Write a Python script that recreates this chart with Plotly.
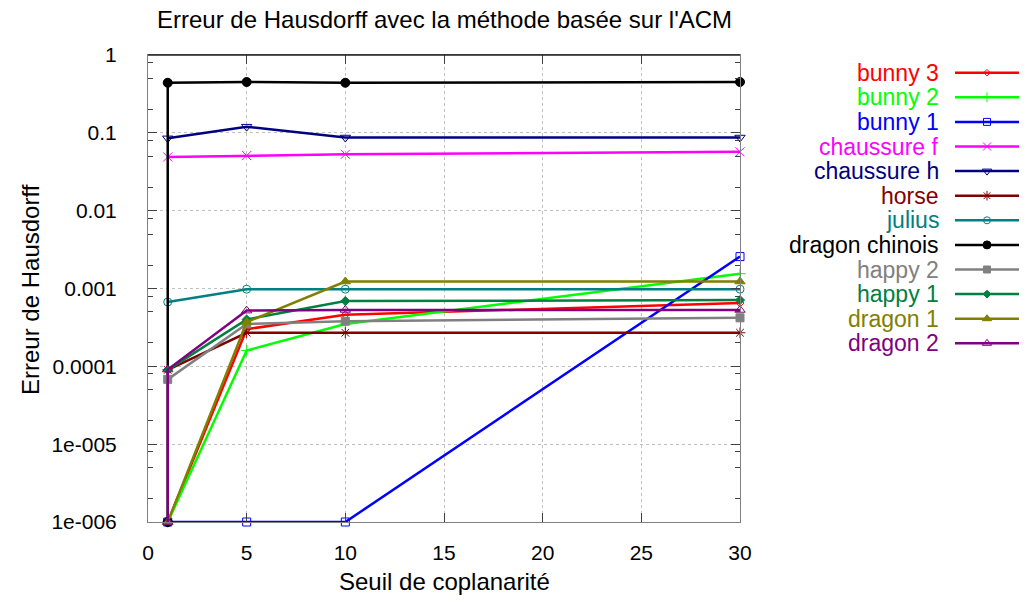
import plotly.graph_objects as go

# ---------------- data ----------------
names = ["bunny 3", "bunny 2", "bunny 1", "chaussure f", "chaussure h", "horse",
         "julius", "dragon chinois", "happy 2", "happy 1", "dragon 1", "dragon 2"]
colors = ["#FF0000", "#00FF00", "#0000FF", "#FF00FF", "#000080", "#800000",
          "#008080", "#000000", "#808080", "#008040", "#808000", "#800080"]
symbols = ["diamond-open", "cross-thin-open", "square-open", "x-thin-open", "triangle-down-open",
           "asterisk-open", "circle-open", "circle", "square", "diamond", "triangle-up", "triangle-up-open"]
msizes = [6, 8, 8, 9, 9, 9, 8, 9, 8, 7, 9, 9]

x_std = [1, 5, 10, 30]
x_two = [1, 1, 5, 10, 30]

bunny3 = [1e-6, 0.00030, 0.00046, 0.00065]
bunny2 = [1e-6, 0.00016, 0.00035, 0.00155]
bunny1 = [1e-6, 1e-6, 1e-6, 0.00257]
chaussure_f = [0.049, 0.051, 0.053, 0.057]
chaussure_h = [0.085, 0.12, 0.087, 0.087]
horse = [9.0e-5, 0.00027, 0.00027, 0.00027]
julius = [0.00067, 0.00098, 0.00098, 0.00098]
dragon_chinois = [1e-6, 0.44, 0.45, 0.44, 0.45]
happy2 = [6.8e-5, 0.00035, 0.00038, 0.00042]
happy1 = [9.0e-5, 0.00040, 0.00069, 0.00071]
dragon1 = [1e-6, 0.00037, 0.00123, 0.00123]
dragon2 = [1e-6, 9.1e-5, 0.00052, 0.00053, 0.00053]

series_y = [bunny3, bunny2, bunny1, chaussure_f, chaussure_h, horse,
            julius, dragon_chinois, happy2, happy1, dragon1, dragon2]
series_x = [x_std, x_std, x_std, x_std, x_std, x_std,
            x_std, x_two, x_std, x_std, x_std, x_two]

y_tickvals = [1, 0.1, 0.01, 0.001, 0.0001, 1e-5, 1e-6]
y_ticktext = ["1", "0.1", "0.01", "0.001", "0.0001", "1e-005", "1e-006"]
x_tickvals = [0, 5, 10, 15, 20, 25, 30]

title = "Erreur de Hausdorff avec la méthode basée sur l'ACM"
xlabel = "Seuil de coplanarité"
ylabel = "Erreur de Hausdorff"

# ---------------- layout geometry (pixels) ----------------
W, H = 1027, 600
PL, PR, PT, PB = 148, 740, 55, 522
FONT = "Liberation Sans, Arial, sans-serif"
FS = 24
FS_LEG = 23
FS_TICK = 21
LW = 2.5

fig = go.Figure()

for i in range(len(names)):
    fig.add_trace(go.Scatter(
        x=series_x[i], y=series_y[i], mode="lines+markers", name=names[i],
        line=dict(color=colors[i], width=LW),
        marker=dict(symbol=symbols[i], size=msizes[i], color=colors[i],
                    line=dict(color=colors[i], width=1)),
        xaxis="x", yaxis="y", showlegend=False, cliponaxis=False))

# Legend samples on separate axes
for i in range(len(names)):
    fig.add_trace(go.Scatter(
        x=[0, 1], y=[i, i], mode="lines", line=dict(color=colors[i], width=LW),
        xaxis="x2", yaxis="y2", showlegend=False, hoverinfo="skip"))
    fig.add_trace(go.Scatter(
        x=[0.5], y=[i], mode="markers",
        marker=dict(symbol=symbols[i], size=msizes[i] - 1, color=colors[i],
                    line=dict(color=colors[i], width=1)),
        xaxis="x2", yaxis="y2", showlegend=False, hoverinfo="skip"))

annotations = []
for i in range(len(names)):
    annotations.append(dict(
        x=940 / W, xref="paper", y=i, yref="y2", text=names[i], showarrow=False,
        xanchor="right", yanchor="middle", borderpad=0,
        font=dict(family=FONT, size=FS_LEG, color=colors[i])))

annotations.append(dict(x=(PL + PR) / 2 / W, y=1 - 581 / H, xref="paper", yref="paper",
                        text=xlabel, showarrow=False, xanchor="center", yanchor="middle",
                        font=dict(family=FONT, size=FS, color="black")))
annotations.append(dict(x=30 / W, y=1 - 290 / H, xref="paper", yref="paper",
                        text=ylabel, showarrow=False, textangle=-90, xanchor="center",
                        yanchor="middle", font=dict(family=FONT, size=FS, color="black")))
annotations.append(dict(x=(PL + PR) / 2 / W, y=1 - 20 / H, xref="paper", yref="paper",
                        text=title, showarrow=False, xanchor="center", yanchor="middle",
                        font=dict(family=FONT, size=FS, color="black")))

minor_vals = []
for e in range(-6, 0):
    for m in (2, 5, 8):
        minor_vals.append(m * 10 ** e)

fig.update_layout(
    template="none",
    width=W, height=H, margin=dict(l=0, r=0, t=0, b=0, autoexpand=False),
    paper_bgcolor="white", plot_bgcolor="white",
    font=dict(family=FONT, size=FS, color="black"),
    showlegend=False,
    xaxis=dict(domain=[PL / W, PR / W], range=[0, 30], tickvals=x_tickvals,
               ticks="inside", ticklen=9, tickcolor="#404040", mirror="ticks",
               showline=True, linecolor="#808080", linewidth=1,
               showgrid=True, gridcolor="#C0C0C0", griddash="dot", gridwidth=1,
               zeroline=False, ticklabelstandoff=12, anchor="y", automargin=False,
               tickfont=dict(family=FONT, size=FS_TICK)),
    yaxis=dict(domain=[1 - PB / H, 1 - PT / H], type="log", range=[-6, 0],
               tickvals=y_tickvals, ticktext=y_ticktext,
               ticks="inside", ticklen=9, tickcolor="#404040", mirror="ticks",
               showline=True, linecolor="#808080", linewidth=1,
               showgrid=True, gridcolor="#C0C0C0", griddash="dot", gridwidth=1,
               zeroline=False, ticklabelstandoff=26, anchor="x", automargin=False,
               minor=dict(tickvals=minor_vals, ticks="inside", ticklen=5,
                          tickcolor="#404040", showgrid=False),
               tickfont=dict(family=FONT, size=FS_TICK)),
    xaxis2=dict(domain=[955 / W, 1019 / W], range=[0, 1], visible=False, anchor="y2"),
    yaxis2=dict(domain=[1 - 355.6 / H, 1 - 60.4 / H], range=[11.5, -0.5], visible=False,
                anchor="x2"),
    annotations=annotations,
    shapes=[dict(type="line", xref="paper", yref="paper", x0=PL / W, x1=PR / W,
                 y0=1 - PT / H, y1=1 - PT / H, line=dict(color="#202020", width=1.5))],
)

fig.write_html("out.html", config={"displayModeBar": False},
               post_script="document.body.style.margin='0px';document.body.style.padding='0px';")
